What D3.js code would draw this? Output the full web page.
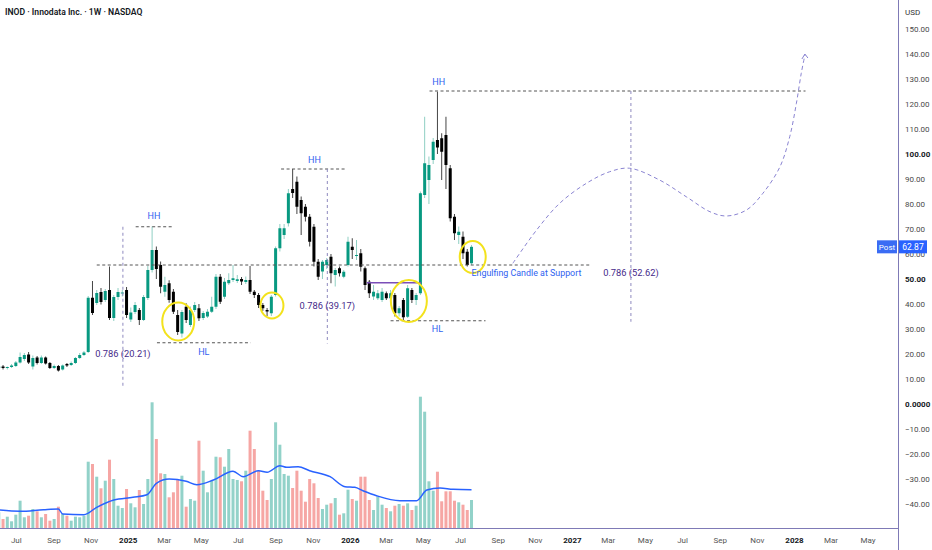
<!DOCTYPE html>
<html>
<head>
<meta charset="utf-8">
<script src="https://cdn.jsdelivr.net/npm/d3@7"></script>
<style>
  body { margin: 0; background: #fff; }
  svg { display: block; }
  text { font-family: Roboto, 'Noto Sans', sans-serif; }
</style>
</head>
<body>
<script>
// weekly bars, first one starts here
const weekStart = '2024-06-03';

// [open, high, low, close] per week
const ohlc = [
  [14.4, 15.4, 14.0, 15.0],
  [15.0, 15.6, 13.8, 14.4], [14.4, 15.0, 13.8, 14.8], [14.8, 16.0, 14.4, 15.4], [15.2, 17.2, 14.8, 16.6],
  [16.6, 20.6, 16.2, 18.8], [18.0, 20.4, 17.2, 19.6], [19.8, 20.8, 16.0, 16.6], [15.0, 19.4, 13.8, 18.4],
  [18.6, 19.2, 15.8, 16.4], [16.4, 19.4, 16.0, 18.6], [18.6, 19.0, 15.8, 16.2], [16.4, 16.8, 14.0, 14.4],
  [14.4, 15.8, 14.0, 15.2], [15.2, 15.6, 13.0, 13.4], [13.8, 15.8, 13.4, 15.4], [16.0, 16.4, 14.8, 15.4],
  [15.6, 17.0, 15.2, 16.4], [16.4, 18.8, 16.0, 18.4], [18.4, 20.4, 18.0, 19.6], [19.6, 21.2, 19.2, 20.6],
  [20.8, 43.2, 20.4, 42.5], [42.5, 49.2, 35.6, 36.4], [40.4, 45.6, 39.6, 44.4], [44.8, 46.4, 39.8, 40.8],
  [41.6, 46.0, 40.8, 45.2], [45.6, 55.0, 33.6, 34.4], [34.4, 43.6, 33.2, 42.8], [42.8, 46.4, 41.6, 44.8],
  [44.2, 45.6, 43.0, 44.6], [45.6, 46.8, 34.4, 35.6], [33.8, 38.6, 32.8, 36.6], [36.8, 40.8, 36.0, 39.6],
  [37.6, 38.4, 31.6, 33.6], [33.6, 43.6, 33.2, 42.8], [42.4, 55.2, 41.6, 53.6], [53.6, 71.0, 52.6, 61.6],
  [61.6, 63.0, 50.0, 54.0], [55.6, 57.0, 44.3, 46.9], [44.9, 50.9, 42.9, 47.6], [48.3, 49.5, 40.5, 41.6],
  [44.9, 46.0, 36.0, 36.9], [35.6, 37.6, 27.6, 28.8], [28.2, 37.6, 26.6, 36.8], [38.9, 40.3, 32.4, 33.6],
  [31.6, 39.0, 30.8, 37.6], [37.6, 40.8, 36.8, 39.6], [38.3, 40.0, 33.2, 34.3], [34.4, 37.2, 33.6, 36.4],
  [35.0, 38.0, 34.4, 36.9], [36.9, 42.9, 36.4, 38.9], [38.9, 52.0, 38.0, 50.9], [50.9, 52.0, 40.0, 40.9],
  [42.9, 50.4, 42.0, 48.9], [48.3, 52.3, 47.6, 49.6], [49.6, 55.6, 48.8, 50.3], [49.2, 51.6, 48.4, 49.9],
  [50.0, 50.8, 47.6, 49.0], [48.8, 51.0, 48.0, 49.6], [49.6, 55.2, 44.0, 44.9], [44.9, 45.6, 42.4, 43.6],
  [43.6, 44.4, 38.4, 39.6], [39.6, 40.4, 37.2, 38.3], [37.6, 38.4, 35.2, 37.0], [36.3, 43.6, 35.2, 42.9],
  [43.6, 63.0, 43.0, 62.3], [62.3, 72.0, 61.0, 70.3], [67.6, 72.0, 66.0, 70.3], [72.3, 86.0, 71.0, 84.3],
  [86.0, 94.0, 82.4, 84.4], [88.9, 91.0, 76.0, 78.9], [81.6, 83.0, 67.6, 76.3], [78.9, 80.0, 73.0, 74.9],
  [74.9, 76.0, 63.0, 64.9], [70.9, 72.0, 55.0, 56.9], [56.9, 58.0, 49.6, 50.9], [53.0, 57.6, 50.0, 56.9],
  [55.6, 58.4, 54.0, 57.6], [58.9, 60.0, 48.3, 52.3], [51.6, 54.4, 47.0, 53.6], [54.3, 55.0, 51.0, 52.3],
  [50.9, 53.6, 50.3, 52.9], [55.6, 66.9, 55.0, 64.9], [62.9, 66.3, 58.0, 61.6], [59.2, 65.6, 57.6, 59.6],
  [60.3, 62.0, 53.0, 54.9], [54.3, 55.0, 45.6, 47.6], [48.9, 49.6, 42.4, 44.3], [43.0, 47.6, 41.6, 44.9],
  [42.3, 45.6, 41.6, 44.3], [41.6, 46.4, 40.8, 44.9], [44.3, 45.0, 41.6, 42.3], [42.3, 45.6, 41.6, 44.3],
  [43.6, 44.4, 35.0, 36.3], [36.3, 39.2, 35.0, 38.3], [41.6, 42.4, 33.6, 34.7], [34.9, 47.6, 34.4, 46.3],
  [45.6, 46.4, 40.4, 41.6], [41.6, 44.4, 39.6, 43.6], [44.3, 85.0, 43.6, 84.3], [83.6, 114.9, 82.4, 96.3],
  [89.6, 99.0, 80.0, 95.6], [97.6, 106.4, 96.0, 104.9], [105.6, 124.9, 100.0, 102.6], [106.3, 108.3, 89.6, 100.9],
  [107.6, 114.9, 86.0, 95.6], [94.3, 95.6, 73.0, 74.3], [74.9, 76.0, 65.6, 68.3], [67.6, 71.0, 64.0, 68.9],
  [66.9, 69.0, 58.0, 60.3], [60.9, 62.0, 55.0, 55.6], [56.3, 63.6, 55.6, 62.87]
];

// weekly volume (millions)
const volume = [
  1.57,
  0.90, 1.13, 0.67, 1.33, 2.73, 1.07, 1.23, 1.90, 1.67, 1.07, 1.40, 0.73, 0.90, 2.13, 1.40, 1.23,
  0.73, 1.13, 1.07, 1.23, 6.63, 6.40, 5.13, 3.97, 4.73, 6.83, 4.90, 2.23, 2.00, 3.90, 2.47, 2.07,
  3.80, 2.40, 4.90, 12.57, 8.90, 5.47, 5.40, 3.07, 3.57, 4.90, 5.23, 2.13, 2.90, 2.73, 8.73, 5.73,
  3.57, 4.73, 7.13, 7.07, 6.13, 7.90, 4.90, 4.80, 4.67, 5.73, 9.73, 7.90, 5.73, 3.73, 2.80, 4.90,
  10.57, 8.33, 5.40, 5.23, 4.00, 5.73, 3.73, 2.63, 4.90, 4.47, 3.00, 1.90, 2.33, 2.47, 3.00, 1.33,
  1.47, 3.83, 2.90, 2.73, 5.13, 5.13, 2.80, 1.80, 3.13, 2.33, 2.00, 1.67, 2.23, 2.40, 2.23, 2.47,
  1.80, 2.23, 13.13, 11.63, 4.67, 3.73, 5.63, 2.67, 3.67, 3.67, 2.73, 2.57, 2.33, 1.80, 2.80
];

// volume moving average, read at these week positions
const maWeek = [0, 5, 10.5, 14, 15, 20, 23, 27, 31.5, 34.8, 37, 40, 44, 46.5, 50.4, 55, 57.4, 61,
  63, 66, 67.6, 70.3, 73, 77.8, 81.3, 83.6, 85.5, 88.7, 94.2, 98.1, 100.5, 103.6, 106.7, 111];
const maValue = [1.8, 1.67, 1.83, 1.9, 1.4, 1.33, 2.07, 2.8, 3.07, 3.33, 4.47, 4.9, 4.67, 4.33, 4.8,
  5.67, 5.13, 5.73, 5.57, 6.23, 6.07, 6.13, 5.73, 5.13, 4.13, 4.07, 3.73, 3.23, 2.73, 2.73, 3.8, 4.0,
  3.87, 3.83];

const lastPrice = 62.87;

const priceTicks = [150, 140, 130, 120, 110, 100, 90, 80, 70, 60, 50, 40, 30, 20, 10, 0, -10, -20, -30, -40];
const boldTicks = [100, 50, 0];
const monthTicks = ['2024-07-01', '2024-09-01', '2024-11-01', '2025-01-01', '2025-03-01', '2025-05-01',
  '2025-07-01', '2025-09-01', '2025-11-01', '2026-01-01', '2026-03-01', '2026-05-01', '2026-07-01',
  '2026-09-01', '2026-11-01', '2027-01-01', '2027-03-01', '2027-05-01', '2027-07-01', '2027-09-01',
  '2027-11-01', '2028-01-01', '2028-03-01', '2028-05-01'];

// drawings: [from, to, price]
const levelLines = [
  ['2024-11-11', '2027-01-31', 55.6],
  ['2025-01-14', '2025-03-16', 70.9],
  ['2025-02-18', '2025-07-22', 24.5],
  ['2025-09-10', '2025-12-27', 94.0],
  ['2026-03-09', '2026-08-12', 33.3],
  ['2026-05-12', '2028-01-20', 125.2]
];
const resistance = ['2026-01-29', '2026-04-28', 48.5];

// fib tools: [date, top, bottom, 0.786 level]
const fibs = [
  ['2024-12-24', 70.9, 6.4, 20.21],
  ['2025-11-25', 94.0, 24.2, 39.17],
  ['2027-04-08', 125.2, 32.9, 52.62]
];

// circled candles: [date, price]
const circles = [
  ['2025-03-25', 33.0],
  ['2025-08-26', 39.4],
  ['2026-04-08', 41.2],
  ['2026-07-22', 58.8]
];
const circleRx = [16, 11.5, 18, 13];
const circleRy = [19, 13, 21, 16];

// labels: [text, date, price]
const labels = [
  ['HH', '2025-02-13', 75.2],
  ['HH', '2025-11-04', 97.6],
  ['HH', '2026-05-27', 128.8],
  ['HL', '2025-05-06', 20.8],
  ['HL', '2026-05-25', 30.0]
];
const noteLabel = ['Engulfing Candle at Support', '2026-07-20', 52.4];

// projected path
const pathDates = ['2026-09-26', '2026-11-04', '2026-12-12', '2027-01-25', '2027-03-04', '2027-04-06',
  '2027-05-25', '2027-07-08', '2027-08-16', '2027-09-12', '2027-10-15', '2027-11-11', '2027-12-09',
  '2027-12-25', '2028-01-05', '2028-01-13', '2028-01-19'];
const pathPrices = [56.3, 69.6, 80.3, 88.3, 92.9, 94.3, 89.6, 82.9, 76.9, 75.2, 77.6, 84.3, 94.9,
  106.9, 120.3, 132.3, 139.6];

// ---------------------------------------------------------------

const width = 932;
const height = 550;
const plotW = 898;
const plotH = 528;

const parse = d3.timeParse('%Y-%m-%d');
const t0 = parse(weekStart);
const weeks = ohlc.map((d, i) => d3.timeWeek.offset(t0, i));

const x = d3.scaleTime()
  .domain([parse('2024-06-05'), parse('2028-06-20')])
  .range([0, plotW]);

const y = d3.scaleLinear()
  .domain([-49.6, 161.6])
  .range([plotH, 0]);

const yVol = d3.scaleLinear()
  .domain([0, 13.2])
  .range([plotH, plotH - 132]);

const svg = d3.select('body').append('svg')
  .attr('width', width)
  .attr('height', height);

svg.append('defs').append('clipPath').attr('id', 'plot')
  .append('rect').attr('width', plotW).attr('height', plotH);

const plot = svg.append('g').attr('clip-path', 'url(#plot)');

const upColor = '#089981';
const downColor = '#000000';
const isUp = d => d[3] >= d[0];

// volume bars
plot.append('g').selectAll('rect')
  .data(volume)
  .enter()
  .append('rect')
  .attr('x', (d, i) => x(weeks[i]) - 1.5)
  .attr('y', d => yVol(d))
  .attr('width', 3)
  .attr('height', d => plotH - yVol(d))
  .style('fill', (d, i) => isUp(ohlc[i]) ? '#92d2c9' : '#f6a6a4');

// volume MA
const maLine = d3.line()
  .x(d => x(new Date(+t0 + d[0] * 7 * 864e5)))
  .y(d => yVol(d[1]))
  .curve(d3.curveMonotoneX);

plot.append('path')
  .datum(maWeek.map((w, i) => [w, maValue[i]]))
  .attr('d', maLine)
  .style('fill', 'none')
  .style('stroke', '#2962ff')
  .style('stroke-width', 1.5);

// candles
const candles = plot.append('g').selectAll('g')
  .data(ohlc)
  .enter()
  .append('g');

candles.append('line')
  .attr('x1', (d, i) => x(weeks[i]))
  .attr('x2', (d, i) => x(weeks[i]))
  .attr('y1', d => y(d[1]))
  .attr('y2', d => y(d[2]))
  .style('stroke', d => isUp(d) ? '#8fcfc3' : '#444')
  .style('stroke-width', 1);

candles.append('rect')
  .attr('x', (d, i) => x(weeks[i]) - 1.5)
  .attr('y', d => y(Math.max(d[0], d[3])))
  .attr('width', 3)
  .attr('height', d => Math.max(1, Math.abs(y(d[0]) - y(d[3]))))
  .style('fill', d => isUp(d) ? upColor : downColor);

// horizontal dashed levels
plot.append('g').selectAll('line')
  .data(levelLines)
  .enter()
  .append('line')
  .attr('x1', d => x(parse(d[0])))
  .attr('x2', d => x(parse(d[1])))
  .attr('y1', d => y(d[2]))
  .attr('y2', d => y(d[2]))
  .style('stroke', '#555')
  .style('stroke-width', 1)
  .style('stroke-dasharray', '3,2.5');

plot.append('line')
  .attr('x1', x(parse(resistance[0])))
  .attr('x2', x(parse(resistance[1])))
  .attr('y1', y(resistance[2]))
  .attr('y2', y(resistance[2]))
  .style('stroke', '#7a4fb8')
  .style('stroke-width', 1.5);

// fib verticals and their labels
plot.append('g').selectAll('line')
  .data(fibs)
  .enter()
  .append('line')
  .attr('x1', d => x(parse(d[0])))
  .attr('x2', d => x(parse(d[0])))
  .attr('y1', d => y(d[1]))
  .attr('y2', d => y(d[2]))
  .style('stroke', '#8e89bf')
  .style('stroke-width', 1)
  .style('stroke-dasharray', '3,3');

plot.append('g').selectAll('text')
  .data(fibs)
  .enter()
  .append('text')
  .attr('x', d => x(parse(d[0])))
  .attr('y', d => y(d[3]))
  .attr('dy', '0.35em')
  .attr('text-anchor', 'middle')
  .style('font-size', '9.3px')
  .style('fill', '#45298a')
  .text(d => `0.786 (${d3.format('.2f')(d[3])})`);

// projection
const projLine = d3.line()
  .x(d => x(parse(d[0])))
  .y(d => y(d[1]))
  .curve(d3.curveCatmullRom);

const proj = pathDates.map((d, i) => [d, pathPrices[i]]);
plot.append('path')
  .datum(proj)
  .attr('d', projLine)
  .style('fill', 'none')
  .style('stroke', '#8a84d2')
  .style('stroke-width', 1)
  .style('stroke-dasharray', '4,3');

const tipX = x(parse(pathDates[pathDates.length - 1]));
const tipY = y(pathPrices[pathPrices.length - 1]);
plot.append('path')
  .attr('d', `M${tipX - 3},${tipY + 4}L${tipX},${tipY - 1}L${tipX + 3},${tipY + 3}`)
  .style('fill', 'none')
  .style('stroke', '#8a84d2')
  .style('stroke-width', 1);

// yellow circles
plot.append('g').selectAll('ellipse')
  .data(circles)
  .enter()
  .append('ellipse')
  .attr('cx', d => x(parse(d[0])))
  .attr('cy', d => y(d[1]))
  .attr('rx', (d, i) => circleRx[i])
  .attr('ry', (d, i) => circleRy[i])
  .style('fill', 'none')
  .style('stroke', '#f3e21c')
  .style('stroke-width', 2);

// HH / HL labels
plot.append('g').selectAll('text')
  .data(labels)
  .enter()
  .append('text')
  .attr('x', d => x(parse(d[1])))
  .attr('y', d => y(d[2]))
  .attr('dy', '0.35em')
  .attr('text-anchor', 'middle')
  .style('font-size', '9px')
  .style('fill', '#2f62f0')
  .text(d => d[0]);

plot.append('text')
  .attr('x', x(parse(noteLabel[1])))
  .attr('y', y(noteLabel[2]))
  .attr('dy', '0.35em')
  .style('font-size', '8.9px')
  .style('fill', '#2f62f0')
  .text(noteLabel[0]);

// axes frame
svg.append('line')
  .attr('x1', plotW + 0.5).attr('x2', plotW + 0.5)
  .attr('y1', 0).attr('y2', height)
  .style('stroke', '#7f7ab6');
svg.append('line')
  .attr('x1', 0).attr('x2', plotW)
  .attr('y1', plotH + 0.5).attr('y2', plotH + 0.5)
  .style('stroke', '#7f7ab6');

// price axis
const yAxis = d3.axisRight(y)
  .tickValues(priceTicks)
  .tickSize(0)
  .tickPadding(7)
  .tickFormat(d => d === 0 ? '0.0000' : d3.format('.2f')(d));

const yAxisG = svg.append('g')
  .attr('transform', `translate(${plotW}, 0)`)
  .call(yAxis);
yAxisG.select('.domain').remove();
yAxisG.selectAll('text')
  .style('font-size', '8px')
  .style('font-family', 'Roboto, sans-serif')
  .style('fill', d => boldTicks.includes(d) ? '#131722' : '#4a4a4a')
  .style('font-weight', d => boldTicks.includes(d) ? 'bold' : 'normal');

svg.append('text')
  .attr('x', 905)
  .attr('y', 12)
  .attr('dy', '0.35em')
  .style('font-size', '8px')
  .style('fill', '#333')
  .text('USD');

// time axis
const xAxis = d3.axisBottom(x)
  .tickValues(monthTicks.map(parse))
  .tickSize(0)
  .tickPadding(9)
  .tickFormat(d => d.getMonth() === 0 ? d3.timeFormat('%Y')(d) : d3.timeFormat('%b')(d));

const xAxisG = svg.append('g')
  .attr('transform', `translate(0, ${plotH})`)
  .call(xAxis);
xAxisG.select('.domain').remove();
xAxisG.selectAll('text')
  .style('font-size', '8px')
  .style('font-family', 'Roboto, sans-serif')
  .style('fill', d => d.getMonth() === 0 ? '#131722' : '#555')
  .style('font-weight', d => d.getMonth() === 0 ? 'bold' : 'normal');

// last price tag
const ly = y(lastPrice);
svg.append('rect')
  .attr('x', 877).attr('y', ly - 6.5)
  .attr('width', 20).attr('height', 13)
  .style('fill', '#3a6cf4');
svg.append('rect')
  .attr('x', 899).attr('y', ly - 6.5)
  .attr('width', 28).attr('height', 13)
  .style('fill', '#2962ff');
svg.append('text')
  .attr('x', 887).attr('y', ly).attr('dy', '0.35em')
  .attr('text-anchor', 'middle')
  .style('font-size', '8px')
  .style('fill', '#fff')
  .text('Post');
svg.append('text')
  .attr('x', 913).attr('y', ly).attr('dy', '0.35em')
  .attr('text-anchor', 'middle')
  .style('font-size', '8.5px')
  .style('fill', '#fff')
  .text(d3.format('.2f')(lastPrice));

// title
svg.append('text')
  .attr('x', 5)
  .attr('y', 12)
  .attr('dy', '0.35em')
  .style('font-size', '8.6px')
  .style('font-weight', 600)
  .style('fill', '#131722')
  .text('INOD · Innodata Inc. · 1W · NASDAQ');
</script>
</body>
</html>
